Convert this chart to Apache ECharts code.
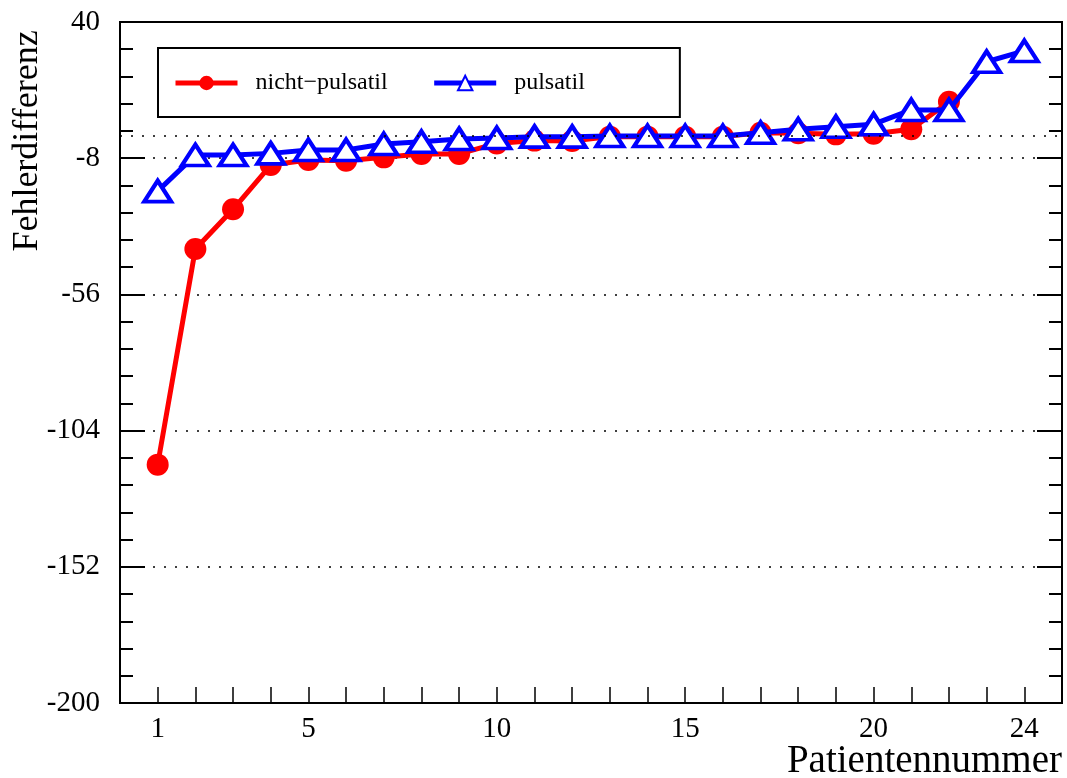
<!DOCTYPE html>
<html>
<head>
<meta charset="utf-8">
<script src="https://cdn.jsdelivr.net/npm/echarts@6/dist/echarts.min.js"></script>
<style>html,body{margin:0;padding:0;background:#fff;}#c{width:1067px;height:778px;}</style>
</head>
<body>
<div id="c"></div>
<script>
const patients = [1,2,3,4,5,6,7,8,9,10,11,12,13,14,15,16,17,18,19,20,21,22,23,24];
const xTickLabels = [1,5,10,15,20,24];
const nichtPulsatil = [-116,-40,-26,-10.4,-8.6,-8.9,-7.7,-6.5,-6.5,-2.8,-1.8,-1.9,-0.4,-0.4,-0.4,-0.4,1.0,0.8,0.4,0.6,2.2,11.9];
const pulsatil = [-19.6,-6.9,-6.9,-6.3,-5.1,-5.1,-3.0,-2.2,-1.2,-0.9,-0.4,-0.4,-0.2,-0.2,-0.2,-0.2,1.0,2.2,3.1,4.0,9.0,9.0,26.0,29.8];
const yTicks = {min:-200, max:40, interval:48};

const FONT = 'Liberation Serif';
const chart = echarts.init(document.getElementById('c'), null, {renderer:'canvas'});
const redData = nichtPulsatil.map((v,i)=>[patients[i], v]);
const blueData = pulsatil.map((v,i)=>[patients[i], v]);

chart.setOption({
  backgroundColor:'#fff',
  animation:false,
  grid:{left:120, right:5, top:22, bottom:75, show:true, borderColor:'#000', borderWidth:2, backgroundColor:'transparent'},
  legend:{
    left:158, top:48,
    orient:'horizontal',
    borderColor:'#000', borderWidth:2,
    padding:[23,95,22,15],
    itemWidth:62, itemHeight:18, itemGap:44,
    lineStyle:{width:5},
    textStyle:{fontFamily:FONT, fontSize:24, color:'#000', padding:[0,0,0,13]},
    data:['nicht\u2212pulsatil','pulsatil']
  },
  xAxis:{
    type:'value', min:0, max:25, interval:1,
    axisLine:{show:true, onZero:false, lineStyle:{color:'#000', width:2}},
    axisTick:{show:true, inside:true, length:16, lineStyle:{color:'#000', width:1.5}},
    axisLabel:{
      margin:12, fontFamily:FONT, fontSize:29, color:'#000',
      formatter:function(v){ return xTickLabels.indexOf(v)>=0 ? String(v) : ''; }
    },
    splitLine:{show:false}
  },
  yAxis:[{
    type:'value', min:yTicks.min, max:yTicks.max, interval:yTicks.interval,
    axisLine:{show:true, lineStyle:{color:'#000', width:2}},
    axisTick:{show:true, inside:true, length:25, lineStyle:{color:'#000', width:2}},
    minorTick:{show:true, splitNumber:5, length:13, lineStyle:{color:'#000', width:2}},
    axisLabel:{margin:20, fontFamily:FONT, fontSize:29, color:'#000'},
    splitLine:{show:true, lineStyle:{color:'#000', width:1.5, type:[2,9]}}
  },{
    type:'value', position:'right', min:yTicks.min, max:yTicks.max, interval:yTicks.interval,
    axisLine:{show:true, lineStyle:{color:'#000', width:2}},
    axisTick:{show:true, inside:true, length:25, lineStyle:{color:'#000', width:2}},
    minorTick:{show:true, splitNumber:5, length:13, lineStyle:{color:'#000', width:2}},
    axisLabel:{show:false},
    splitLine:{show:false}
  }],
  series:[{
    name:'nicht\u2212pulsatil', type:'line', data:redData,
    symbol:'circle', symbolSize:22,
    lineStyle:{color:'#ff0000', width:5},
    itemStyle:{color:'#ff0000'},
    z:2,
    markLine:{
      silent:true, symbol:['none','none'], label:{show:false},
      lineStyle:{color:'#000', width:1.5, type:[2,9]},
      data:[{yAxis:0}]
    }
  },{
    name:'pulsatil', type:'line', data:blueData,
    symbol:'triangle', symbolSize:[27,21],
    lineStyle:{color:'#0000ff', width:5},
    itemStyle:{color:'#ffffff', borderColor:'#0000ff', borderWidth:4},
    z:3
  }],
  graphic:[{
    type:'text', x:28, y:141, rotation:Math.PI/2,
    style:{text:'Fehlerdifferenz', fontFamily:FONT, fontSize:36, fill:'#000', textAlign:'center', textVerticalAlign:'middle'}
  },{
    type:'text', x:1062, y:762,
    style:{text:'Patientennummer', fontFamily:FONT, fontSize:39, fill:'#000', textAlign:'right', textVerticalAlign:'middle'}
  }]
});
</script>
</body>
</html>
